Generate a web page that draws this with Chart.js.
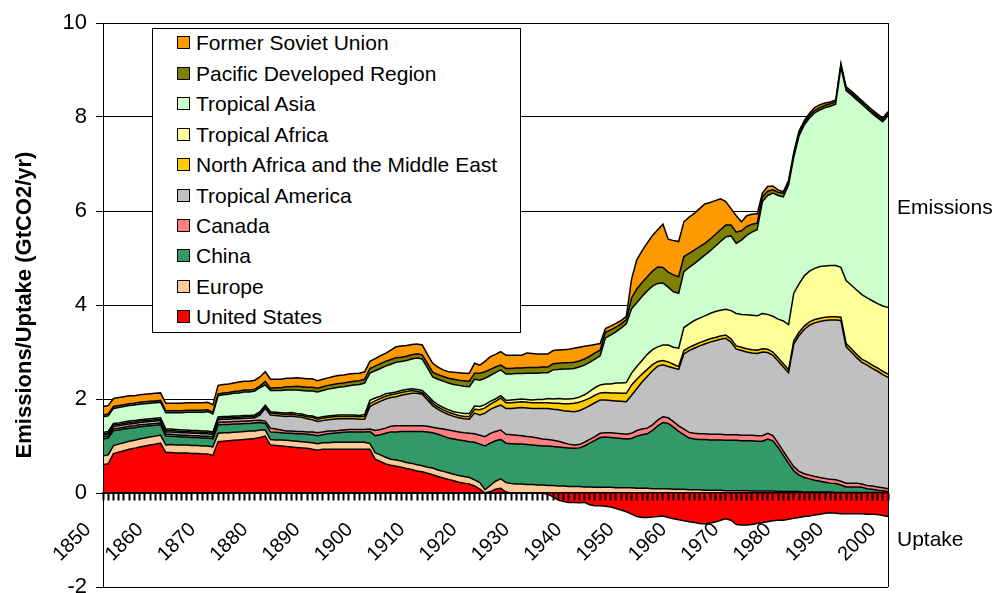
<!DOCTYPE html>
<html><head><meta charset="utf-8">
<script src="https://cdn.jsdelivr.net/npm/chart.js@4/dist/chart.umd.min.js"></script>
<style>
html,body{margin:0;padding:0;background:#fff;}
#wrap{position:relative;width:1000px;height:593px;overflow:hidden;}
#legend{position:absolute;left:152px;top:28px;width:367px;height:303px;border:1px solid #000;background:#fff;font-family:"Liberation Sans",Arial,sans-serif;font-size:21px;color:#000;}
.item{position:absolute;left:0;height:30px;line-height:30px;white-space:nowrap;}
.sw{position:absolute;left:24px;top:8px;width:11px;height:11px;border:1px solid #000;}
.lbl{position:absolute;left:43px;top:0;}
</style></head>
<body><div id="wrap"><canvas id="c" width="1000" height="593"></canvas><div id="legend"></div></div>
<script>
const years = Array.from({length: 151}, (_, i) => 1850 + i);
const tickLabels = ['1850','1860','1870','1880','1890','1900','1910','1920','1930','1940','1950','1960','1970','1980','1990','2000'];
const yTicks = [-2, 0, 2, 4, 6, 8, 10];

const unitedStates = [
 .60,.62,.84,.87,.90,.93,.95,.98,1.00,1.02,
 1.04,1.06,.86,.86,.85,.85,.85,.84,.84,.83,
 .83,.80,1.09,1.10,1.11,1.12,1.13,1.14,1.15,1.16,
 1.18,1.21,1.02,1.01,1.00,.99,.98,.97,.96,.95,
 .93,.91,.93,.93,.93,.93,.93,.93,.93,.93,
 .93,.93,.72,.67,.62,.59,.57,.55,.52,.50,
 .47,.45,.42,.39,.35,.32,.29,.26,.23,.21,
 .19,.15,.08,0,.03,.08,.10,.02,0,0,
 0,0,0,0,0,-.03,-.08,-.15,-.18,-.20,
 -.20,-.21,-.20,-.25,-.27,-.27,-.28,-.30,-.33,-.36,
 -.40,-.45,-.50,-.52,-.52,-.51,-.50,-.49,-.52,-.55,
 -.57,-.59,-.61,-.63,-.65,-.66,-.64,-.62,-.58,-.55,
 -.58,-.67,-.68,-.68,-.67,-.65,-.63,-.61,-.59,-.58,
 -.58,-.56,-.54,-.52,-.50,-.49,-.47,-.45,-.43,-.42,
 -.43,-.44,-.44,-.44,-.44,-.44,-.45,-.45,-.46,-.48,
 -.50];
const europe = [
 .19,.19,.17,.17,.17,.17,.17,.17,.17,.17,
 .17,.17,.16,.17,.17,.17,.17,.17,.17,.17,
 .17,.18,.18,.18,.17,.17,.17,.17,.17,.16,
 .16,.13,.12,.12,.13,.13,.13,.13,.13,.13,
 .14,.14,.14,.14,.15,.15,.15,.15,.15,.15,
 .15,.12,.14,.14,.14,.13,.13,.13,.13,.13,
 .13,.13,.13,.14,.14,.14,.14,.14,.14,.14,
 .14,.13,.14,.07,.13,.17,.20,.20,.20,.19,
 .19,.18,.18,.17,.17,.16,.16,.15,.15,.14,
 .14,.14,.13,.13,.12,.12,.12,.12,.11,.11,
 .11,.11,.10,.10,.10,.09,.09,.09,.09,.08,
 .08,.08,.07,.07,.07,.06,.06,.06,.06,.05,
 .05,.05,.05,.05,.04,.04,.04,.04,.04,.03,
 .03,.03,.03,.03,.02,.02,.02,.02,.02,.02,
 .01,.01,.01,.01,.01,.01,.01,.01,.01,.01,
 .01];
const china = [
 .36,.36,.32,.30,.29,.28,.27,.26,.25,.24,
 .23,.22,.19,.18,.18,.17,.17,.17,.17,.17,
 .17,.17,.18,.18,.18,.18,.17,.17,.16,.17,
 .16,.14,.16,.16,.15,.15,.16,.16,.17,.17,
 .17,.17,.17,.19,.19,.20,.21,.22,.22,.22,
 .22,.26,.36,.43,.51,.58,.60,.63,.66,.68,
 .71,.73,.75,.75,.76,.75,.74,.75,.76,.76,
 .76,.80,.82,.93,.90,.86,.84,.84,.85,.85,
 .85,.85,.84,.84,.83,.84,.83,.83,.82,.82,
 .81,.82,.87,.93,1.00,1.06,1.07,1.06,1.06,1.05,
 1.04,1.05,1.11,1.14,1.16,1.24,1.34,1.41,1.39,1.32,
 1.23,1.16,1.10,1.08,1.07,1.08,1.07,1.07,1.07,1.07,
 1.07,1.07,1.06,1.06,1.07,1.06,1.06,1.11,1.07,.94,
 .77,.60,.44,.35,.31,.28,.25,.23,.21,.19,
 .19,.16,.12,.12,.12,.11,.08,.07,.05,.04,
 .02];
const canada = [
 .04,.04,.04,.04,.04,.04,.04,.04,.04,.04,
 .04,.04,.04,.04,.04,.04,.04,.04,.04,.04,
 .04,.04,.05,.05,.05,.05,.05,.05,.05,.05,
 .05,.05,.08,.07,.06,.05,.05,.05,.05,.05,
 .06,.06,.06,.06,.05,.05,.05,.05,.05,.05,
 .05,.05,.11,.11,.11,.12,.13,.12,.12,.12,
 .12,.12,.12,.12,.13,.15,.17,.17,.17,.17,
 .18,.18,.19,.20,.21,.20,.20,.19,.19,.19,
 .18,.17,.17,.16,.15,.14,.13,.12,.10,.08,
 .07,.07,.08,.08,.08,.09,.09,.10,.10,.10,
 .10,.11,.12,.12,.12,.12,.12,.12,.12,.12,
 .12,.12,.12,.12,.12,.12,.12,.12,.12,.12,
 .12,.12,.12,.12,.12,.12,.12,.12,.11,.09,
 .09,.09,.09,.08,.08,.08,.08,.08,.08,.08,
 .08,.08,.08,.08,.08,.07,.07,.07,.07,.06,
 .06];
const tropicalAmerica = [
 .04,.04,.05,.05,.05,.05,.05,.05,.05,.05,
 .05,.05,.05,.05,.05,.05,.05,.05,.05,.05,
 .05,.05,.06,.06,.06,.06,.06,.06,.06,.06,
 .11,.27,.28,.29,.30,.31,.32,.31,.30,.28,
 .26,.24,.24,.24,.25,.25,.24,.23,.23,.22,
 .22,.48,.57,.60,.62,.61,.62,.65,.67,.69,
 .69,.67,.56,.46,.40,.36,.33,.31,.30,.30,
 .30,.44,.43,.50,.51,.52,.53,.55,.56,.58,
 .60,.61,.61,.63,.65,.66,.66,.67,.68,.70,
 .71,.72,.72,.72,.72,.71,.70,.69,.69,.69,
 .69,.81,.89,1.00,1.10,1.15,1.15,1.11,1.09,1.14,
 1.20,1.60,1.74,1.81,1.87,1.91,1.96,1.99,2.02,2.05,
 1.97,1.82,1.80,1.77,1.75,1.75,1.78,1.72,1.71,1.75,
 1.79,1.84,2.61,2.89,3.07,3.19,3.27,3.32,3.36,3.39,
 3.40,3.42,2.90,2.79,2.67,2.59,2.56,2.50,2.46,2.41,
 2.37];
const northAfricaMiddleEast = [
 .03,.03,.03,.03,.03,.03,.03,.03,.03,.03,
 .03,.03,.03,.03,.03,.03,.03,.03,.03,.03,
 .03,.03,.03,.03,.03,.03,.03,.03,.03,.03,
 .04,.04,.04,.04,.04,.04,.04,.04,.04,.04,
 .05,.05,.05,.05,.05,.05,.05,.05,.05,.05,
 .06,.06,.06,.06,.06,.06,.06,.06,.06,.06,
 .04,.04,.05,.05,.05,.05,.05,.05,.05,.05,
 .06,.08,.11,.11,.11,.12,.15,.12,.12,.12,
 .12,.12,.12,.12,.12,.12,.13,.14,.15,.16,
 .18,.18,.17,.16,.16,.15,.16,.16,.17,.17,
 .18,.22,.20,.17,.15,.13,.10,.09,.10,.08,
 .06,.07,.07,.07,.07,.07,.07,.07,.07,.07,
 .07,.07,.07,.07,.07,.07,.07,.07,.07,.07,
 .07,.06,.07,.07,.07,.07,.07,.07,.07,.07,
 .07,.07,.07,.07,.07,.07,.07,.07,.07,.07,
 .07];
const tropicalAfrica = [
 .03,.03,.03,.03,.03,.03,.03,.03,.03,.03,
 .03,.03,.03,.03,.03,.03,.03,.03,.03,.03,
 .03,.03,.03,.03,.03,.03,.03,.03,.03,.03,
 .03,.03,.03,.03,.03,.03,.03,.03,.03,.03,
 .03,.03,.03,.03,.03,.03,.03,.03,.03,.03,
 .04,.07,.06,.05,.05,.04,.04,.04,.04,.04,
 .04,.04,.05,.05,.05,.05,.05,.05,.06,.06,
 .06,.07,.07,.07,.06,.05,.05,.05,.06,.06,
 .06,.06,.06,.07,.07,.09,.09,.10,.10,.10,
 .10,.11,.12,.14,.16,.17,.18,.19,.21,.22,
 .23,.25,.27,.29,.32,.32,.31,.33,.36,.36,
 .39,.49,.50,.52,.52,.53,.54,.55,.55,.55,
 .60,.69,.70,.72,.73,.73,.75,.74,.76,.82,
 .91,.96,1.01,1.03,1.07,1.08,1.09,1.10,1.09,1.09,
 1.09,1.06,1.34,1.35,1.37,1.37,1.36,1.37,1.37,1.39,
 1.42];
const tropicalAsia = [
 .33,.33,.32,.33,.33,.33,.33,.33,.33,.33,
 .33,.33,.35,.35,.36,.37,.38,.39,.39,.40,
 .41,.38,.45,.46,.47,.48,.49,.50,.50,.51,
 .51,.43,.45,.46,.47,.49,.48,.50,.50,.52,
 .53,.55,.56,.57,.58,.59,.60,.62,.64,.66,
 .67,.58,.58,.59,.59,.61,.63,.62,.62,.63,
 .67,.67,.58,.51,.54,.56,.57,.58,.58,.58,
 .57,.57,.56,.56,.55,.56,.55,.56,.55,.55,
 .54,.56,.57,.56,.57,.55,.62,.62,.64,.64,
 .64,.64,.63,.62,.61,.62,.98,1.04,1.09,1.17,
 1.25,1.37,1.36,1.36,1.35,1.35,1.35,1.32,1.23,1.18,
 1.17,1.19,1.20,1.21,1.25,1.29,1.33,1.39,1.46,1.54,
 1.59,1.49,1.58,1.69,1.77,1.83,2.38,2.53,2.62,2.63,
 2.64,2.97,2.90,3.15,3.21,3.26,3.31,3.33,3.37,3.39,
 3.43,4.26,4.04,4.05,4.05,4.05,4.02,3.98,3.95,3.92,
 4.08];
const pacificDeveloped = [
 .04,.04,.04,.04,.04,.04,.04,.04,.04,.04,
 .04,.04,.04,.04,.04,.04,.04,.04,.04,.04,
 .04,.04,.04,.04,.04,.04,.04,.04,.04,.04,
 .04,.07,.05,.06,.06,.07,.07,.08,.08,.08,
 .08,.08,.08,.08,.08,.08,.08,.08,.08,.08,
 .08,.10,.10,.10,.10,.10,.10,.09,.09,.09,
 .09,.09,.10,.10,.10,.10,.10,.11,.11,.12,
 .12,.13,.15,.14,.13,.12,.10,.12,.12,.12,
 .12,.12,.12,.12,.12,.12,.13,.13,.13,.13,
 .13,.13,.13,.13,.13,.12,.12,.11,.10,.09,
 .09,.23,.29,.30,.30,.32,.35,.33,.32,.36,
 .35,.32,.30,.29,.27,.25,.25,.25,.25,.25,
 .23,.24,.20,.19,.17,.14,.10,.09,.07,.07,
 .08,.06,.05,.05,.05,.05,.05,.05,.05,.05,
 .05,.04,.04,.04,.04,.04,.04,.04,.04,.04,
 .04];
const formerSovietUnion = [
 .18,.18,.17,.17,.17,.17,.16,.16,.16,.16,
 .16,.16,.16,.16,.16,.16,.16,.16,.16,.16,
 .16,.16,.18,.18,.18,.18,.19,.19,.19,.19,
 .19,.21,.19,.18,.18,.18,.18,.18,.18,.18,
 .18,.16,.16,.16,.17,.17,.17,.17,.16,.16,
 .16,.15,.16,.17,.17,.20,.23,.24,.23,.22,
 .21,.21,.19,.19,.16,.14,.14,.15,.16,.16,
 .17,.21,.17,.22,.27,.27,.29,.28,.28,.27,
 .27,.31,.30,.29,.28,.28,.28,.28,.28,.29,
 .30,.29,.27,.23,.18,.14,.08,.08,.08,.07,
 .07,.40,.62,.67,.72,.76,.79,.92,.70,.73,
 .75,.74,.77,.78,.81,.84,.78,.72,.66,.50,
 .35,.35,.19,.23,.21,.20,.08,.10,.08,.05,
 .03,.04,.05,.05,.04,.05,.06,.06,.05,.04,
 .04,.04,.04,.04,.04,.04,.04,.04,.04,.04,
 .04];

const FONT = '"Liberation Sans", Arial, sans-serif';
Chart.defaults.font.family = FONT;
Chart.defaults.color = '#000';

const series = [
  {label: 'United States', data: unitedStates.map(v => Math.max(v, 0)), color: '#FF0000'},
  {label: 'Europe', data: europe, color: '#FFCC99'},
  {label: 'China', data: china, color: '#339966'},
  {label: 'Canada', data: canada, color: '#FF8080'},
  {label: 'Tropical America', data: tropicalAmerica, color: '#C0C0C0'},
  {label: 'North Africa and the Middle East', data: northAfricaMiddleEast, color: '#FFCC00'},
  {label: 'Tropical Africa', data: tropicalAfrica, color: '#FFFF99'},
  {label: 'Tropical Asia', data: tropicalAsia, color: '#CCFFCC'},
  {label: 'Pacific Developed Region', data: pacificDeveloped, color: '#808000'},
  {label: 'Former Soviet Union', data: formerSovietUnion, color: '#FF9900'}
];

const datasets = [{
  label: 'United States uptake',
  data: unitedStates.map(v => Math.min(v, 0)),
  stack: 'neg', fill: 'origin',
  backgroundColor: '#FF0000', borderColor: '#000', borderWidth: 1.5,
  pointRadius: 0, tension: 0, inLegend: false
}].concat(series.map((s, i) => ({
  label: s.label, data: s.data, stack: 'pos',
  fill: i === 0 ? 'origin' : '-1',
  backgroundColor: s.color, borderColor: '#000', borderWidth: 1.5,
  pointRadius: 0, tension: 0, inLegend: true
})));

const overlay = {
  id: 'overlay',
  afterDraw(chart) {
    const {ctx, chartArea: a, scales: {y}} = chart;
    ctx.save();
    ctx.strokeStyle = '#000'; ctx.lineWidth = 1;
    ctx.beginPath(); ctx.moveTo(Math.round(a.right) + .5, a.top); ctx.lineTo(Math.round(a.right) + .5, a.bottom); ctx.stroke();
    ctx.font = '21px ' + FONT; ctx.fillStyle = '#000'; ctx.textBaseline = 'middle'; ctx.textAlign = 'left';
    ctx.fillText('Emissions', a.right + 9, y.getPixelForValue(6.05));
    ctx.fillText('Uptake', a.right + 9, y.getPixelForValue(-1.0));
    ctx.restore();
  }
};

const chart = new Chart(document.getElementById('c'), {
  type: 'line',
  data: {labels: years.map(String), datasets},
  options: {
    responsive: false, animation: false, devicePixelRatio: 1,
    layout: {padding: {left: 0, right: 112, top: 23, bottom: 6}},
    plugins: {legend: {display: false}, tooltip: {enabled: false}},
    elements: {point: {radius: 0}, line: {tension: 0}},
    scales: {
      x: {
        type: 'category', position: {y: 0}, offset: false,
        grid: {display: true, drawOnChartArea: false, drawTicks: true, tickLength: 7, tickWidth: 2, tickColor: '#000', z: 1},
        border: {display: true, color: '#000', width: 1.5, z: 1},
        ticks: {autoSkip: false, maxRotation: 45, minRotation: 45, padding: 18, labelOffset: -15, color: '#000', z: 1,
          font: {family: FONT, size: 20},
          callback: (v, i) => tickLabels.includes(String(years[i])) ? String(years[i]) : ''},
        afterFit: s => { s.paddingLeft = 0; s.paddingRight = 0; }
      },
      y: {
        min: yTicks[0], max: yTicks[yTicks.length - 1], stacked: true,
        afterBuildTicks: s => { s.ticks = yTicks.map(v => ({value: v})); },
        ticks: {color: '#000', font: {family: FONT, size: 22}, padding: 9},
        grid: {color: '#000', lineWidth: 1, tickLength: 7, drawTicks: true},
        border: {display: true, color: '#000', width: 1, z: 1},
        title: {display: true, text: 'Emissions/Uptake (GtCO2/yr)', color: '#000',
          font: {family: FONT, size: 22, weight: 'bold'}, padding: {top: 12, bottom: 0}},
        afterFit: s => { s.width = 103; s.paddingTop = 0; s.paddingBottom = 0; }
      }
    }
  },
  plugins: [overlay]
});

// HTML legend built from the chart's datasets (reverse stacking order)
const legend = document.getElementById('legend');
chart.data.datasets.filter(d => d.inLegend).slice().reverse().forEach((d, i) => {
  const row = document.createElement('div');
  row.className = 'item';
  row.style.top = (-0.7 + 30.45 * i) + 'px';
  const sw = document.createElement('div'); sw.className = 'sw'; sw.style.background = d.backgroundColor;
  const lb = document.createElement('div'); lb.className = 'lbl'; lb.textContent = d.label;
  row.appendChild(sw); row.appendChild(lb); legend.appendChild(row);
});
</script>
</body></html>
